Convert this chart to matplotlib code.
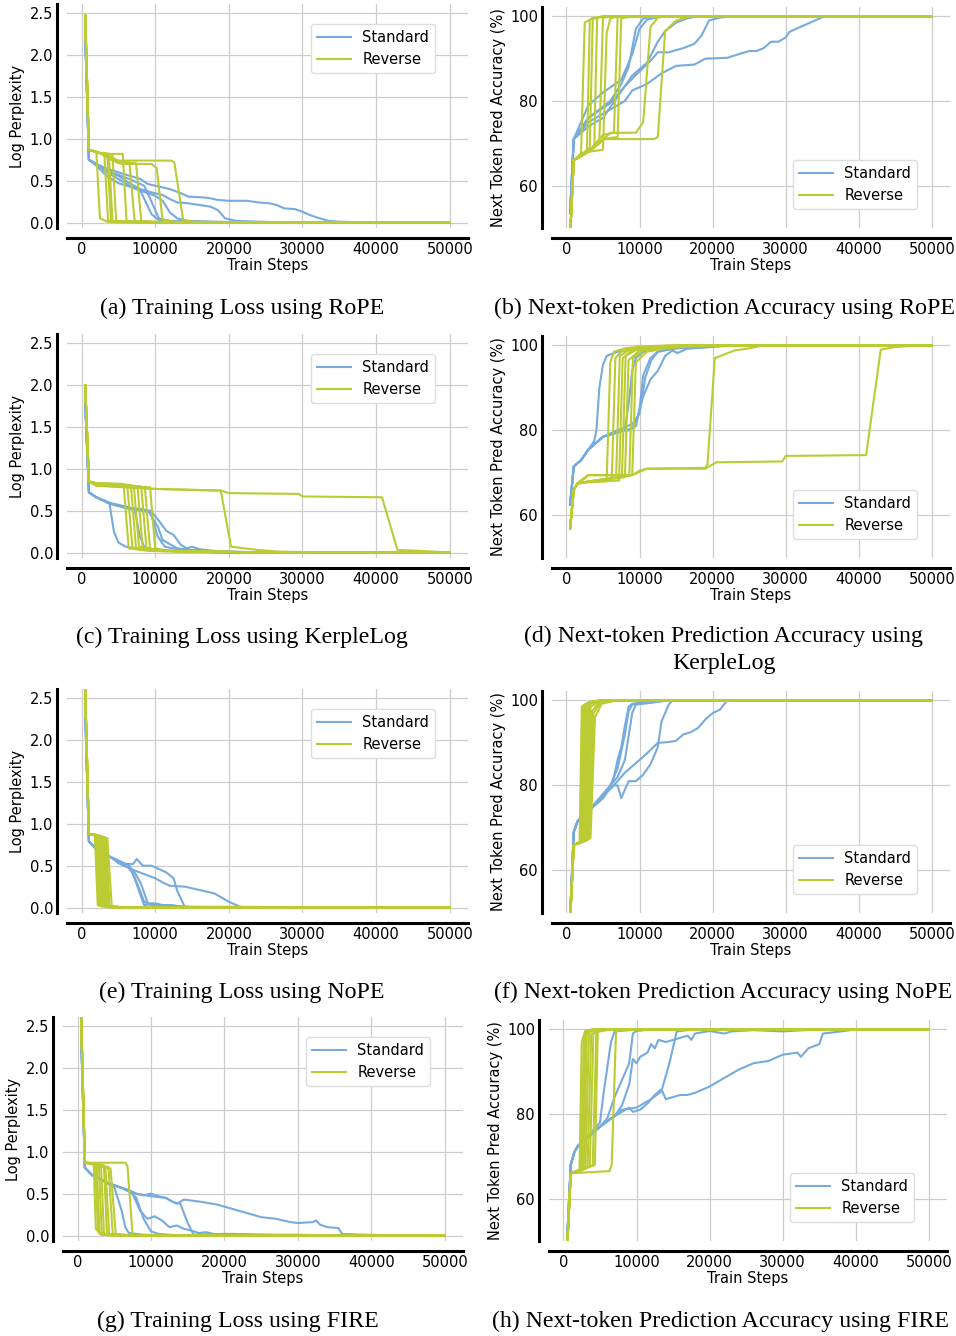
import matplotlib
matplotlib.use('Agg')
import matplotlib.pyplot as plt
from matplotlib.lines import Line2D

STD_COLOR = '#77AADD'
REV_COLOR = '#BBCC33'

# ---- RoPE ----
rope_loss_std = [
    [(500, 2.25), (1000, 0.75), (2000, 0.7), (3000, 0.66), (5000, 0.6), (6500, 0.56), (8000, 0.52), (9000, 0.46),
     (10500, 0.43), (12000, 0.4), (13500, 0.35), (14500, 0.31), (16500, 0.3), (17500, 0.29), (18500, 0.27),
     (20000, 0.26), (22500, 0.26), (24000, 0.24), (25500, 0.23), (26500, 0.21), (27500, 0.17), (29000, 0.16),
     (30000, 0.13), (31000, 0.09), (32000, 0.06), (33500, 0.02), (35000, 0.01), (40000, 0.0), (50000, 0.0)],
    [(500, 2.25), (1000, 0.75), (2000, 0.7), (3500, 0.6), (5000, 0.56), (6500, 0.47), (8000, 0.4), (9500, 0.36),
     (11000, 0.33), (12000, 0.28), (13000, 0.24), (14500, 0.23), (16000, 0.21), (17500, 0.19), (18500, 0.15),
     (19500, 0.05), (21000, 0.02), (24000, 0.01), (30000, 0.0), (50000, 0.0)],
    [(500, 2.25), (1000, 0.75), (2000, 0.7), (3500, 0.6), (5000, 0.52), (6500, 0.44), (8000, 0.38), (10000, 0.32),
     (11000, 0.26), (12000, 0.12), (13000, 0.05), (14500, 0.02), (18000, 0.01), (25000, 0.0), (50000, 0.0)],
    [(500, 2.25), (1000, 0.75), (2000, 0.68), (3500, 0.55), (5000, 0.47), (6500, 0.43), (8000, 0.38), (9500, 0.1),
     (10500, 0.03), (12000, 0.01), (20000, 0.0), (50000, 0.0)],
    [(500, 2.25), (1000, 0.75), (2000, 0.7), (3500, 0.62), (5000, 0.57), (6500, 0.52), (8500, 0.44), (9500, 0.25),
     (10500, 0.05), (12000, 0.02), (16000, 0.01), (25000, 0.0), (50000, 0.0)],
]
rope_loss_rev = [
    [(500, 2.47), (1000, 0.87), (2000, 0.85), (2500, 0.05), (3500, 0.01), (6000, 0.0), (50000, 0.0)],
    [(500, 2.47), (1000, 0.87), (2500, 0.83), (3100, 0.82), (3600, 0.02), (5000, 0.01), (8000, 0.0), (50000, 0.0)],
    [(500, 2.47), (1000, 0.87), (2500, 0.83), (3500, 0.8), (4000, 0.02), (6000, 0.01), (9000, 0.0), (50000, 0.0)],
    [(500, 2.47), (1000, 0.87), (2500, 0.83), (3700, 0.82), (4200, 0.02), (6000, 0.01), (9000, 0.0), (50000, 0.0)],
    [(500, 2.47), (1000, 0.87), (2500, 0.83), (4200, 0.81), (4700, 0.02), (7000, 0.01), (10000, 0.0), (50000, 0.0)],
    [(500, 2.47), (1000, 0.87), (2500, 0.83), (4000, 0.82), (5600, 0.82), (6100, 0.02), (8000, 0.01),
     (12000, 0.0), (50000, 0.0)],
    [(500, 2.47), (1000, 0.87), (2500, 0.83), (4000, 0.78), (5000, 0.72), (6500, 0.72), (7200, 0.02),
     (9000, 0.01), (14000, 0.0), (50000, 0.0)],
    [(500, 2.47), (1000, 0.87), (2500, 0.83), (4000, 0.76), (5000, 0.71), (7400, 0.71), (8100, 0.02),
     (10000, 0.01), (15000, 0.0), (50000, 0.0)],
    [(500, 2.47), (1000, 0.87), (2500, 0.83), (4000, 0.75), (5500, 0.7), (9500, 0.7), (10200, 0.65), (11000, 0.03),
     (12500, 0.01), (16000, 0.0), (50000, 0.0)],
    [(500, 2.47), (1000, 0.87), (2500, 0.83), (4000, 0.78), (5000, 0.74), (12200, 0.74), (12600, 0.72),
     (13800, 0.03), (15000, 0.01), (20000, 0.0), (50000, 0.0)],
]
rope_acc_std = [
    [(500, 53.5), (1000, 71), (3000, 75), (5000, 77), (8000, 80), (9000, 82.5), (11000, 84), (13000, 86.5),
     (15000, 88.3), (17500, 88.6), (19000, 90), (22000, 90.2), (24000, 91.3), (25000, 91.8), (26000, 91.8),
     (27000, 92.5), (28000, 94), (29000, 94), (30000, 95), (30500, 96.3), (32000, 97.5), (34000, 99),
     (35000, 99.8), (37000, 100), (50000, 100)],
    [(500, 53.5), (1000, 71), (3000, 76), (6000, 79.5), (8000, 83.5), (10000, 87), (11500, 89.5), (12500, 91.5),
     (14000, 91.5), (16000, 92.5), (17500, 93.5), (18500, 95.5), (19500, 99), (21000, 99.7), (23000, 100),
     (50000, 100)],
    [(500, 53.5), (1000, 71), (3000, 74), (5000, 76), (7000, 81), (9000, 86), (11000, 89), (12500, 94),
     (13500, 96.5), (15000, 98.5), (16500, 99.5), (18000, 100), (50000, 100)],
    [(500, 53.5), (1000, 71), (3000, 79), (5000, 82), (7500, 85), (9000, 91), (10000, 97), (11000, 99.2),
     (12500, 99.8), (14000, 100), (50000, 100)],
    [(500, 53.5), (1000, 71), (3000, 76), (6000, 80), (7500, 84), (8500, 88), (9500, 97), (10500, 99.5),
     (12000, 100), (50000, 100)],
]
rope_acc_rev = [
    [(500, 48), (1000, 66), (2000, 67.5), (2500, 98.5), (3500, 99.5), (5000, 100), (50000, 100)],
    [(500, 48), (1000, 66), (2000, 67.5), (2800, 68), (3200, 99.2), (4500, 99.8), (6000, 100), (50000, 100)],
    [(500, 48), (1000, 66), (2500, 68), (3200, 69), (3600, 99.5), (5000, 100), (50000, 100)],
    [(500, 48), (1000, 66), (3000, 68), (3800, 69), (4200, 99.7), (6000, 100), (50000, 100)],
    [(500, 48), (1000, 66), (3000, 68), (4500, 70.5), (5000, 99.7), (7000, 100), (50000, 100)],
    [(500, 48), (1000, 66), (3000, 68), (5000, 68.5), (5500, 96), (6000, 99.5), (7000, 100), (50000, 100)],
    [(500, 48), (1000, 66), (3000, 68), (5000, 72), (6500, 72.5), (7000, 99.8), (8000, 100), (50000, 100)],
    [(500, 48), (1000, 66), (3000, 68), (4500, 70), (5000, 71), (7000, 71.5), (7500, 99.5), (9000, 100),
     (50000, 100)],
    [(500, 48), (1000, 66), (3000, 68), (4500, 70), (6000, 72.5), (9500, 72.5), (10500, 75), (11500, 97.5),
     (12500, 99.7), (14000, 100), (50000, 100)],
    [(500, 48), (1000, 66), (3000, 68), (5000, 71), (12000, 71), (12500, 71.5), (13500, 96.5), (15000, 99),
     (17000, 100), (50000, 100)],
]

# ---- KerpleLog ----
kerple_loss_std = [
    [(500, 1.78), (1000, 0.72), (2000, 0.66), (3000, 0.62), (3800, 0.58), (4400, 0.25), (5000, 0.12),
     (6000, 0.07), (8000, 0.04), (12000, 0.02), (20000, 0.0), (50000, 0.0)],
    [(500, 1.78), (1000, 0.72), (2000, 0.66), (4000, 0.59), (6000, 0.55), (7200, 0.52), (7900, 0.2),
     (8600, 0.05), (10000, 0.03), (14000, 0.01), (20000, 0.0), (50000, 0.0)],
    [(500, 1.78), (1000, 0.72), (2000, 0.66), (4000, 0.58), (6000, 0.54), (8000, 0.52), (9300, 0.5),
     (10300, 0.2), (11300, 0.07), (13000, 0.04), (17000, 0.02), (22000, 0.0), (50000, 0.0)],
    [(500, 1.78), (1000, 0.72), (2000, 0.66), (4000, 0.58), (6000, 0.54), (8000, 0.51), (9500, 0.49),
     (10500, 0.38), (11500, 0.26), (12500, 0.21), (13500, 0.09), (14300, 0.05), (15000, 0.07), (16000, 0.04),
     (18000, 0.02), (24000, 0.0), (50000, 0.0)],
    [(500, 1.78), (1000, 0.72), (2000, 0.66), (4000, 0.58), (6000, 0.53), (8000, 0.5), (9200, 0.48),
     (10400, 0.3), (11000, 0.15), (12000, 0.1), (13000, 0.05), (16000, 0.02), (22000, 0.0), (50000, 0.0)],
]
kerple_loss_rev = [
    [(500, 2.0), (1000, 0.85), (2000, 0.83), (5700, 0.82), (6400, 0.05), (9000, 0.02), (15000, 0.01),
     (25000, 0.0), (50000, 0.0)],
    [(500, 2.0), (1000, 0.85), (2000, 0.83), (6200, 0.81), (6900, 0.06), (9500, 0.02), (16000, 0.01),
     (26000, 0.0), (50000, 0.0)],
    [(500, 2.0), (1000, 0.85), (2000, 0.8), (6700, 0.8), (7400, 0.05), (10000, 0.02), (16000, 0.01),
     (26000, 0.0), (50000, 0.0)],
    [(500, 2.0), (1000, 0.85), (2000, 0.82), (7100, 0.8), (7800, 0.07), (10000, 0.03), (17000, 0.01),
     (27000, 0.0), (50000, 0.0)],
    [(500, 2.0), (1000, 0.85), (2000, 0.81), (7600, 0.79), (8300, 0.05), (11000, 0.02), (18000, 0.01),
     (28000, 0.0), (50000, 0.0)],
    [(500, 2.0), (1000, 0.85), (2000, 0.82), (8100, 0.79), (8800, 0.06), (11000, 0.02), (18000, 0.01),
     (28000, 0.0), (50000, 0.0)],
    [(500, 2.0), (1000, 0.85), (2000, 0.8), (8600, 0.78), (9300, 0.04), (12000, 0.02), (18000, 0.01),
     (28000, 0.0), (50000, 0.0)],
    [(500, 2.0), (1000, 0.85), (2000, 0.81), (9300, 0.78), (10000, 0.05), (12000, 0.02), (19000, 0.01),
     (29000, 0.0), (50000, 0.0)],
    [(500, 2.0), (1000, 0.85), (2000, 0.8), (10000, 0.76), (18900, 0.74), (20300, 0.07), (24000, 0.03),
     (27000, 0.01), (35000, 0.0), (50000, 0.0)],
    [(500, 2.0), (1000, 0.85), (2000, 0.8), (10000, 0.76), (19000, 0.74), (20000, 0.71), (29500, 0.7),
     (30000, 0.67), (40800, 0.66), (42900, 0.03), (46000, 0.02), (50000, 0.0)],
]
kerple_acc_std = [
    [(500, 62.5), (1000, 71.5), (2000, 73), (3000, 75.5), (3800, 77.5), (4100, 80), (4500, 90), (5000, 95.5),
     (5500, 97.5), (7000, 98.5), (10000, 99.3), (15000, 99.8), (20000, 100), (50000, 100)],
    [(500, 62.5), (1000, 71.5), (2000, 73), (3000, 75.5), (4000, 77), (5000, 78.5), (6000, 79), (7000, 79.5),
     (8000, 80.5), (8500, 86), (9000, 94), (9500, 97), (10500, 98.5), (13000, 99.3), (18000, 99.7),
     (22000, 100), (50000, 100)],
    [(500, 62.5), (1000, 71.5), (2000, 73), (3000, 75.5), (5000, 78.5), (7000, 80), (8500, 80), (9500, 81),
     (10000, 85), (10500, 93), (11500, 97), (12500, 98.5), (14500, 99.2), (18000, 99.6), (22000, 100),
     (50000, 100)],
    [(500, 62.5), (1000, 71.5), (2000, 73), (3000, 75.5), (5000, 78.5), (7000, 79.5), (9000, 80.5),
     (9800, 83.5), (10500, 88), (11500, 92), (12500, 94), (13500, 97.5), (14500, 98.8), (15200, 98.2),
     (16500, 99.2), (19000, 99.5), (23000, 100), (50000, 100)],
    [(500, 62.5), (1000, 71.5), (2000, 73), (3000, 75.5), (5000, 78.5), (7000, 80), (9000, 81.5), (10000, 84),
     (10800, 92.5), (11600, 96.5), (12500, 98.5), (15000, 99.4), (20000, 99.8), (23000, 100), (50000, 100)],
]
kerple_acc_rev = [
    [(500, 57), (1000, 66), (1500, 67.5), (3000, 67.8), (5500, 68), (6000, 96), (6500, 98.5), (8000, 99.3),
     (10000, 99.7), (14000, 100), (50000, 100)],
    [(500, 57), (1000, 66), (1500, 67.5), (3000, 68), (6200, 68.5), (6700, 97), (7500, 98.5), (10000, 99.5),
     (15000, 100), (50000, 100)],
    [(500, 57), (1000, 66), (1500, 67.5), (3000, 69.5), (6800, 69.5), (7300, 97.5), (8500, 98.8),
     (11000, 99.5), (16000, 100), (50000, 100)],
    [(500, 57), (1000, 66), (1500, 67.5), (3000, 68), (7200, 68.2), (7700, 97), (9000, 98.8), (12000, 99.5),
     (17000, 100), (50000, 100)],
    [(500, 57), (1000, 66), (1500, 67.5), (3000, 69.5), (7600, 69.5), (8100, 97.5), (9500, 98.9),
     (12000, 99.5), (18000, 100), (50000, 100)],
    [(500, 57), (1000, 66), (1500, 67.5), (3000, 68), (8000, 69), (8500, 96.5), (10000, 98.8), (13000, 99.5),
     (18000, 100), (50000, 100)],
    [(500, 57), (1000, 66), (1500, 67.5), (3000, 69.5), (8600, 69.5), (9100, 97), (10500, 98.8), (14000, 99.5),
     (19000, 100), (50000, 100)],
    [(500, 57), (1000, 66), (1500, 67.5), (3000, 69.5), (9000, 69.5), (9500, 96), (11000, 98.5), (14000, 99.4),
     (20000, 100), (50000, 100)],
    [(500, 57), (1000, 66), (1500, 67.5), (3000, 68), (9000, 69.5), (10000, 70.5), (11000, 71), (19000, 71.2),
     (19300, 72), (20300, 97), (23000, 98.8), (25000, 99.3), (27000, 100), (50000, 100)],
    [(500, 57), (1000, 66), (1500, 67.5), (3000, 68), (9000, 69.5), (11000, 71), (19000, 71), (20500, 72.5),
     (29500, 72.7), (30000, 74), (41000, 74.2), (43000, 99), (45000, 99.6), (48000, 100), (50000, 100)],
]

# ---- NoPE ----
nope_loss_std = [
    [(500, 2.35), (1000, 0.79), (2000, 0.7), (3000, 0.65), (4000, 0.6), (5000, 0.56), (6000, 0.52),
     (7000, 0.4), (8000, 0.15), (8500, 0.03), (9500, 0.04), (11000, 0.02), (13000, 0.01), (16000, 0.0),
     (50000, 0.0)],
    [(500, 2.35), (1000, 0.79), (2000, 0.7), (3000, 0.65), (4000, 0.6), (5000, 0.56), (6500, 0.5),
     (7500, 0.3), (8500, 0.07), (9500, 0.03), (12000, 0.03), (13000, 0.01), (17000, 0.0), (50000, 0.0)],
    [(500, 2.35), (1000, 0.79), (2000, 0.7), (3000, 0.65), (4000, 0.6), (5000, 0.56), (6000, 0.52),
     (7000, 0.52), (7500, 0.58), (8300, 0.5), (9500, 0.5), (10500, 0.46), (11500, 0.42), (12500, 0.35),
     (13000, 0.2), (14000, 0.01), (50000, 0.0)],
    [(500, 2.35), (1000, 0.79), (2000, 0.7), (3000, 0.65), (4000, 0.6), (5000, 0.53), (7000, 0.45),
     (8500, 0.4), (10000, 0.35), (11000, 0.3), (12000, 0.26), (14000, 0.25), (15500, 0.22), (17000, 0.19),
     (18000, 0.17), (19000, 0.12), (20000, 0.07), (21500, 0.01), (22000, 0.0), (50000, 0.0)],
    [(500, 2.35), (1000, 0.79), (2000, 0.7), (3000, 0.65), (4000, 0.6), (5000, 0.55), (6000, 0.5),
     (7000, 0.45), (8000, 0.3), (9000, 0.05), (10000, 0.05), (11000, 0.03), (12000, 0.03), (14000, 0.01),
     (16000, 0.0), (50000, 0.0)],
]
nope_loss_rev = [
    [(500, 2.6), (1000, 0.88), (1800, 0.87), (2200, 0.03), (3000, 0.01), (4000, 0.0), (50000, 0.0)],
    [(500, 2.6), (1000, 0.88), (2000, 0.87), (2400, 0.02), (3200, 0.01), (4500, 0.0), (50000, 0.0)],
    [(500, 2.6), (1000, 0.88), (2200, 0.86), (2600, 0.03), (3400, 0.01), (4500, 0.0), (50000, 0.0)],
    [(500, 2.6), (1000, 0.88), (2400, 0.86), (2800, 0.02), (3600, 0.01), (5000, 0.0), (50000, 0.0)],
    [(500, 2.6), (1000, 0.88), (2600, 0.85), (3000, 0.02), (3800, 0.01), (5000, 0.0), (50000, 0.0)],
    [(500, 2.6), (1000, 0.88), (2800, 0.85), (3200, 0.02), (4000, 0.01), (5500, 0.0), (50000, 0.0)],
    [(500, 2.6), (1000, 0.88), (3000, 0.84), (3400, 0.03), (4200, 0.01), (5500, 0.0), (50000, 0.0)],
    [(500, 2.6), (1000, 0.88), (3100, 0.84), (3600, 0.02), (4400, 0.01), (6000, 0.0), (50000, 0.0)],
    [(500, 2.6), (1000, 0.88), (3300, 0.83), (3800, 0.02), (4600, 0.01), (6000, 0.0), (50000, 0.0)],
    [(500, 2.6), (1000, 0.88), (3500, 0.83), (4100, 0.02), (5000, 0.01), (6500, 0.0), (50000, 0.0)],
]
nope_acc_std = [
    [(500, 49), (1000, 69), (1500, 71.5), (2000, 72.5), (3000, 74), (5000, 77), (6000, 79.5), (6500, 82),
     (7000, 86), (7500, 89), (8000, 94), (8500, 98.5), (9000, 99.2), (10000, 99.4), (12000, 99.6),
     (14000, 100), (50000, 100)],
    [(500, 49), (1000, 69), (1500, 71.5), (2000, 72.5), (3000, 74), (5000, 77), (6000, 80), (7000, 84),
     (8000, 92), (8500, 97.5), (9000, 99), (11000, 99.5), (13000, 100), (50000, 100)],
    [(500, 49), (1000, 69), (1500, 71.5), (2000, 72.5), (3000, 74), (5500, 79), (7000, 82), (8000, 86),
     (9000, 97), (9500, 99), (11000, 99.3), (14000, 100), (50000, 100)],
    [(500, 49), (1000, 69), (1500, 71.5), (2000, 72.5), (3000, 74), (5000, 77.5), (6500, 80), (7000, 80),
     (7500, 77), (8000, 79), (8500, 81), (9500, 81), (10500, 82.5), (11500, 85), (12500, 89), (13000, 95),
     (14000, 99), (14500, 100), (50000, 100)],
    [(500, 49), (1000, 69), (1500, 71.5), (2000, 72.5), (3000, 74), (5000, 77.5), (7000, 81), (8000, 83),
     (10000, 86), (11000, 87.5), (12500, 90), (14000, 90.2), (15000, 90.5), (16000, 92), (17000, 92.5),
     (18000, 93.5), (19000, 95.5), (20000, 97), (21000, 97.8), (22000, 100), (50000, 100)],
]
nope_acc_rev = [
    [(500, 48), (1000, 66), (1800, 66.5), (2100, 98.5), (3000, 99.5), (4500, 100), (50000, 100)],
    [(500, 48), (1000, 66), (2000, 66.5), (2300, 98.8), (3200, 99.6), (4500, 100), (50000, 100)],
    [(500, 48), (1000, 66), (2200, 66.8), (2500, 99), (3500, 99.6), (5000, 100), (50000, 100)],
    [(500, 48), (1000, 66), (2300, 67), (2700, 98.5), (3600, 99.5), (5000, 100), (50000, 100)],
    [(500, 48), (1000, 66), (2500, 67), (2900, 99), (3800, 99.6), (5500, 100), (50000, 100)],
    [(500, 48), (1000, 66), (2700, 67), (3100, 99.2), (4000, 99.7), (5500, 100), (50000, 100)],
    [(500, 48), (1000, 66), (2900, 67.2), (3300, 98.5), (4200, 99.5), (6000, 100), (50000, 100)],
    [(500, 48), (1000, 66), (3000, 67.5), (3500, 97.5), (4400, 99.4), (6000, 100), (50000, 100)],
    [(500, 48), (1000, 66), (3200, 67.5), (3700, 97), (4600, 99.3), (6500, 100), (50000, 100)],
    [(500, 48), (1000, 66), (3300, 67.8), (3900, 96), (4800, 99.2), (7000, 100), (50000, 100)],
]

# ---- FIRE ----
fire_loss_std = [
    [(500, 2.4), (1000, 0.81), (2000, 0.72), (3000, 0.68), (4000, 0.63), (5000, 0.58), (6000, 0.3),
     (6500, 0.1), (7000, 0.03), (9000, 0.01), (12000, 0.0), (50000, 0.0)],
    [(500, 2.4), (1000, 0.81), (2000, 0.72), (3000, 0.68), (4000, 0.63), (5000, 0.6), (6000, 0.57),
     (7000, 0.54), (8000, 0.45), (9000, 0.2), (10000, 0.05), (11000, 0.02), (14000, 0.0), (50000, 0.0)],
    [(500, 2.4), (1000, 0.81), (2000, 0.72), (3000, 0.68), (4000, 0.63), (5000, 0.6), (6000, 0.57),
     (7500, 0.5), (8500, 0.3), (9500, 0.2), (10500, 0.23), (11500, 0.18), (12500, 0.1), (13500, 0.12),
     (14500, 0.08), (15500, 0.06), (16500, 0.03), (17500, 0.04), (19000, 0.01), (21000, 0.02), (24000, 0.01),
     (30000, 0.01), (35000, 0.0), (50000, 0.0)],
    [(500, 2.4), (1000, 0.81), (2000, 0.72), (3000, 0.68), (4000, 0.63), (5000, 0.6), (6000, 0.57),
     (7000, 0.54), (8000, 0.5), (9000, 0.48), (10000, 0.5), (11000, 0.47), (12000, 0.45), (13000, 0.4),
     (14000, 0.38), (15000, 0.15), (15800, 0.01), (20000, 0.02), (25000, 0.01), (30000, 0.0), (50000, 0.0)],
    [(500, 2.4), (1000, 0.81), (2000, 0.72), (3000, 0.68), (4000, 0.63), (5000, 0.6), (6000, 0.57),
     (7000, 0.54), (8000, 0.5), (10000, 0.47), (12000, 0.45), (13500, 0.38), (14500, 0.43), (17000, 0.4),
     (19000, 0.37), (21000, 0.32), (23000, 0.27), (25000, 0.22), (27000, 0.2), (29000, 0.16), (30000, 0.15),
     (32000, 0.16), (32500, 0.18), (33000, 0.13), (34000, 0.1), (35500, 0.09), (36000, 0.02), (39000, 0.01),
     (45000, 0.0), (50000, 0.0)],
]
fire_loss_rev = [
    [(500, 2.6), (1000, 0.87), (2200, 0.86), (2500, 0.08), (3200, 0.01), (5000, 0.0), (50000, 0.0)],
    [(500, 2.6), (1000, 0.87), (2400, 0.86), (2800, 0.05), (3500, 0.01), (5000, 0.0), (50000, 0.0)],
    [(500, 2.6), (1000, 0.87), (2600, 0.86), (3000, 0.02), (4000, 0.01), (5500, 0.0), (50000, 0.0)],
    [(500, 2.6), (1000, 0.87), (2900, 0.85), (3300, 0.03), (4000, 0.01), (6000, 0.0), (50000, 0.0)],
    [(500, 2.6), (1000, 0.87), (3200, 0.85), (3600, 0.02), (4500, 0.01), (6000, 0.0), (50000, 0.0)],
    [(500, 2.6), (1000, 0.87), (3600, 0.84), (4000, 0.02), (5000, 0.01), (6500, 0.0), (50000, 0.0)],
    [(500, 2.6), (1000, 0.87), (3800, 0.82), (4300, 0.02), (5500, 0.01), (7000, 0.0), (50000, 0.0)],
    [(500, 2.6), (1000, 0.87), (4200, 0.82), (4800, 0.02), (6000, 0.01), (7500, 0.0), (50000, 0.0)],
    [(500, 2.6), (1000, 0.87), (4500, 0.8), (5200, 0.02), (6500, 0.01), (8000, 0.0), (50000, 0.0)],
    [(500, 2.6), (1000, 0.87), (6500, 0.87), (6800, 0.83), (7500, 0.01), (9000, 0.0), (50000, 0.0)],
]
fire_acc_std = [
    [(500, 50), (1000, 68), (1500, 71), (2000, 72.5), (3000, 74), (5000, 78), (5500, 85), (6500, 97),
     (7000, 99.5), (9000, 99.8), (12000, 100), (50000, 100)],
    [(500, 50), (1000, 68), (1500, 71), (2000, 72.5), (3000, 74), (5000, 77), (6000, 79), (7000, 84),
     (8000, 88), (9000, 92), (9500, 99), (10000, 99.6), (12000, 100), (50000, 100)],
    [(500, 50), (1000, 68), (1500, 71), (2000, 72.5), (3000, 74), (5000, 77), (7000, 79.5), (8000, 82),
     (9000, 87), (9500, 93), (10000, 92), (10500, 93.5), (11500, 94.5), (12000, 96.5), (12500, 95.5),
     (13000, 97.5), (14000, 97), (15000, 97.5), (16000, 98), (17000, 98.5), (17500, 97.5), (18000, 99),
     (20000, 99.6), (22000, 99), (23000, 99.5), (26000, 99.8), (30000, 99.5), (35000, 100), (50000, 100)],
    [(500, 50), (1000, 68), (1500, 71), (2000, 72.5), (3000, 74), (5000, 77), (7000, 79.5), (9000, 81.5),
     (9500, 80.5), (10500, 81), (11500, 82.5), (12500, 84.5), (13500, 86), (14500, 92), (15500, 99.5),
     (17000, 99.8), (20000, 100), (50000, 100)],
    [(500, 50), (1000, 68), (1500, 71), (2000, 72.5), (3000, 74), (5000, 77), (8000, 81), (10000, 81.5),
     (12000, 83.5), (13500, 85.5), (14000, 83.5), (15000, 84), (16000, 84.5), (17000, 84.5), (18000, 85),
     (20000, 86.5), (22000, 88.5), (24000, 90.5), (26000, 92), (28000, 92.5), (30000, 94), (32000, 94.5),
     (32500, 93.5), (33500, 95.5), (35000, 96.5), (35500, 99), (38000, 99.5), (40000, 100), (50000, 100)],
]
fire_acc_rev = [
    [(500, 48), (1000, 66), (2200, 66.5), (2500, 97), (3000, 99.7), (4500, 100), (50000, 100)],
    [(500, 48), (1000, 66), (2400, 66.5), (2800, 98), (3400, 99.7), (5000, 100), (50000, 100)],
    [(500, 48), (1000, 66), (2600, 67), (3000, 99.5), (4000, 100), (50000, 100)],
    [(500, 48), (1000, 66), (2800, 67), (3200, 99), (4000, 99.7), (5500, 100), (50000, 100)],
    [(500, 48), (1000, 66), (3000, 67), (3500, 99.3), (4500, 99.8), (6000, 100), (50000, 100)],
    [(500, 48), (1000, 66), (3300, 67.5), (3800, 98.8), (4800, 99.7), (6000, 100), (50000, 100)],
    [(500, 48), (1000, 66), (3600, 67.5), (4100, 99), (5000, 99.8), (6500, 100), (50000, 100)],
    [(500, 48), (1000, 66), (4000, 67.8), (4500, 99.2), (5500, 99.8), (7000, 100), (50000, 100)],
    [(500, 48), (1000, 66), (4300, 68), (4700, 99.5), (6000, 99.8), (7500, 100), (50000, 100)],
    [(500, 48), (1000, 66), (6300, 66.5), (6600, 68), (7200, 99.5), (8500, 100), (50000, 100)],
]

captions = [
    '(a) Training Loss using RoPE',
    '(b) Next-token Prediction Accuracy using RoPE',
    '(c) Training Loss using KerpleLog',
    '(d) Next-token Prediction Accuracy using\nKerpleLog',
    '(e) Training Loss using NoPE',
    '(f) Next-token Prediction Accuracy using NoPE',
    '(g) Training Loss using FIRE',
    '(h) Next-token Prediction Accuracy using FIRE',
]

FIG_W, FIG_H = 956, 1336
fig = plt.figure(figsize=(FIG_W / 100, FIG_H / 100), dpi=100)
plt.rcParams['font.family'] = 'DejaVu Sans'


def add_axes_px(left, top, right, bottom):
    return fig.add_axes([left / FIG_W, 1 - bottom / FIG_H, (right - left) / FIG_W, (bottom - top) / FIG_H])


def draw_panel(ax, std_runs, rev_runs, kind):
    for run in std_runs:
        xs = [p[0] for p in run]
        ys = [p[1] for p in run]
        ax.plot(xs, ys, color=STD_COLOR, lw=1.5)
    for run in rev_runs:
        xs = [p[0] for p in run]
        ys = [p[1] for p in run]
        ax.plot(xs, ys, color=REV_COLOR, lw=1.5)

    ax.set_xlim(-1975, 52475)
    ax.set_xticks([0, 10000, 20000, 30000, 40000, 50000])
    ax.set_xlabel('Train Steps', fontsize=10.5, labelpad=1)
    if kind == 'loss':
        ax.set_ylim(-0.065, 2.61)
        ax.set_yticks([0.0, 0.5, 1.0, 1.5, 2.0, 2.5])
        ax.set_yticklabels(['0.0', '0.5', '1.0', '1.5', '2.0', '2.5'])
        ax.set_ylabel('Log Perplexity', fontsize=10.5, labelpad=3)
    else:
        ax.set_ylim(50, 102.2)
        ax.set_yticks([60, 80, 100])
        ax.set_ylabel('Next Token Pred Accuracy (%)', fontsize=10.5, labelpad=3)

    ax.grid(True, color='#cccccc', lw=0.9)
    ax.set_axisbelow(True)
    for side in ['top', 'right']:
        ax.spines[side].set_visible(False)
    ax.spines['left'].set_position(('outward', 7))
    ax.spines['bottom'].set_position(('outward', 7))
    ax.spines['left'].set_linewidth(2.2)
    ax.spines['bottom'].set_linewidth(2.2)
    ax.tick_params(length=0, labelsize=10.5, pad=3)

    handles = [Line2D([], [], color=STD_COLOR, lw=1.5), Line2D([], [], color=REV_COLOR, lw=1.5)]
    if kind == 'loss':
        leg = ax.legend(handles, ['Standard', 'Reverse'], loc='upper right', bbox_to_anchor=(0.918, 0.91),
                        borderaxespad=0, fontsize=10.5, handlelength=2.3, fancybox=True, framealpha=1)
    else:
        leg = ax.legend(handles, ['Standard', 'Reverse'], loc='lower right', bbox_to_anchor=(0.917, 0.086),
                        borderaxespad=0, fontsize=10.5, handlelength=2.3, fancybox=True, framealpha=1)
    leg.get_frame().set_edgecolor('#dddddd')


panel_data = [
    (rope_loss_std, rope_loss_rev, 'loss'), (rope_acc_std, rope_acc_rev, 'acc'),
    (kerple_loss_std, kerple_loss_rev, 'loss'), (kerple_acc_std, kerple_acc_rev, 'acc'),
    (nope_loss_std, nope_loss_rev, 'loss'), (nope_acc_std, nope_acc_rev, 'acc'),
    (fire_loss_std, fire_loss_rev, 'loss'), (fire_acc_std, fire_acc_rev, 'acc'),
]

# pixel boxes of each plotting area (left, top, right, bottom)
boxes = [
    (67, 4, 468, 228), (552, 7, 950, 228),
    (67, 334, 468, 558), (552, 336, 950, 558),
    (67, 689, 468, 913), (552, 691, 950, 913),
    (63, 1017, 463, 1241), (549, 1020, 947, 1241),
]
caption_pos = [(242, 308), (724, 308), (242, 637), (724, 650),
               (242, 992), (723, 992), (238, 1321), (720, 1321)]

for (std_runs, rev_runs, kind), box, cap, cpos in zip(panel_data, boxes, captions, caption_pos):
    ax = add_axes_px(*box)
    draw_panel(ax, std_runs, rev_runs, kind)
    fig.text(cpos[0] / FIG_W, 1 - cpos[1] / FIG_H, cap, ha='center', va='center',
             fontsize=17.2, family='Liberation Serif', linespacing=1.4)

fig.savefig('out.png', dpi=100)
